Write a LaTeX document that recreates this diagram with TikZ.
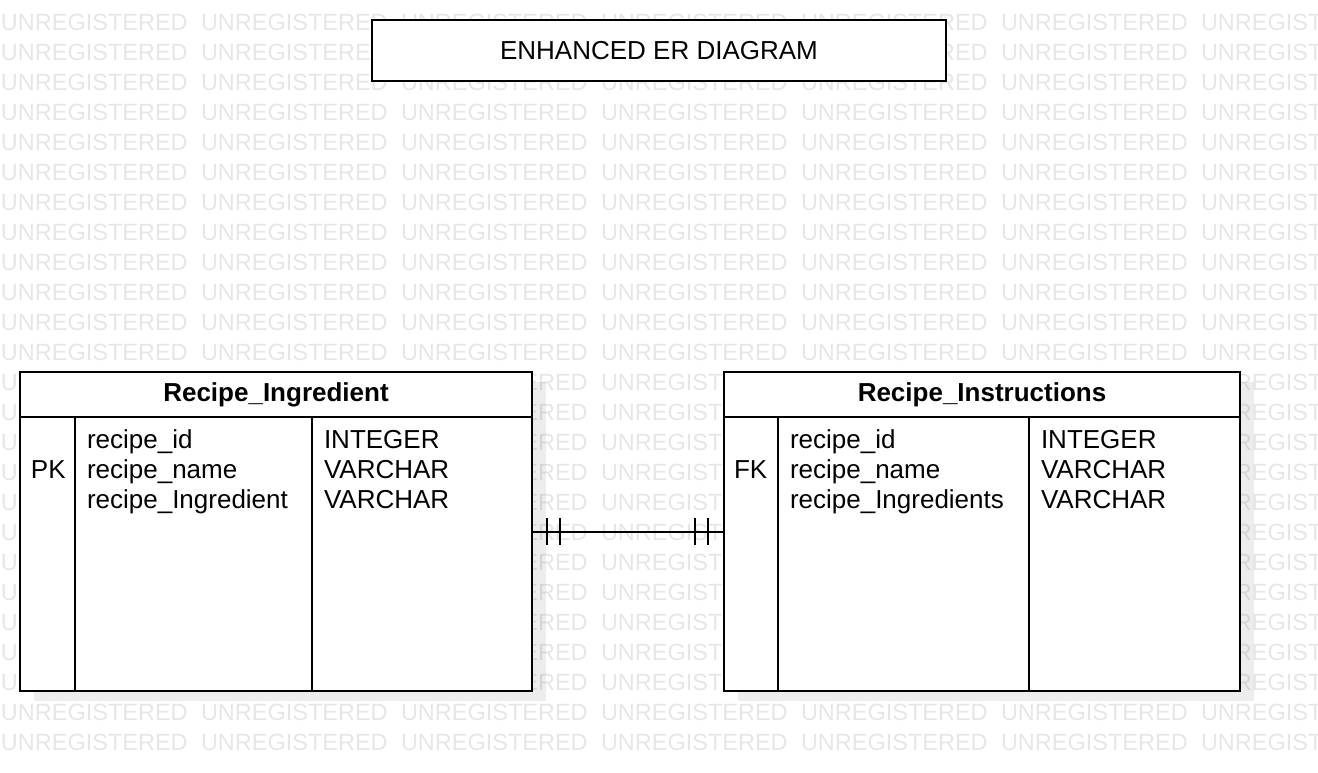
\documentclass[tikz,border=0pt]{standalone}
\usepackage{fontspec}
\setmainfont{Liberation Sans}
\usetikzlibrary{shadows}
\definecolor{wmgray}{RGB}{230,230,230}

\begin{document}
\begin{tikzpicture}[x=0.5pt,y=-0.5pt,line width=1pt,
  wmark/.style={anchor=base west,inner sep=0pt,text=wmgray,font=\fontsize{11.75}{14}\selectfont},
  tablebox/.style={draw,fill=white,inner sep=0pt,minimum height=159.5pt,
    drop shadow={shadow xshift=7pt,shadow yshift=-5pt,fill=black,opacity=0.07}},
  titlebox/.style={draw,fill=white,inner sep=0pt,minimum width=287pt,minimum height=30.5pt,
    font=\fontsize{13}{15}\selectfont},
  headtext/.style={anchor=base,inner sep=0pt,font=\bfseries\fontsize{13}{15}\selectfont},
  celltext/.style={anchor=base west,inner sep=0pt,font=\fontsize{13}{15}\selectfont}]
  \useasboundingbox (0,0) rectangle (1318,772);
  \clip (0,0) rectangle (1318,772);
  % watermark
  \foreach \r in {0,...,24}
    \foreach \c in {0,...,6}
      \node[wmark] (wm-\r-\c) at (200*\c,30+30*\r) {UNREGISTERED};

  \node[titlebox] (title) at (659,50.5) {ENHANCED ER DIAGRAM};

  % tables
  \node[tablebox,minimum width=256pt] (ing) at (276,531.5) {};
  \node[tablebox,minimum width=258pt] (ins) at (982,531.5) {};

  \draw ([yshift=-22.75pt]ing.north west) -- ([yshift=-22.75pt]ing.north east);
  \draw ([xshift=28pt,yshift=-22.75pt]ing.north west) -- ([xshift=28pt]ing.south west);
  \draw ([xshift=146.5pt,yshift=-22.75pt]ing.north west) -- ([xshift=146.5pt]ing.south west);
  \draw ([yshift=-22.75pt]ins.north west) -- ([yshift=-22.75pt]ins.north east);
  \draw ([xshift=27.5pt,yshift=-22.75pt]ins.north west) -- ([xshift=27.5pt]ins.south west);
  \draw ([xshift=153pt,yshift=-22.75pt]ins.north west) -- ([xshift=153pt]ins.south west);

  \node[headtext] (ing-head) at (276,401) {Recipe\_Ingredient};
  \node[headtext] (ins-head) at (982,401) {Recipe\_Instructions};

  \node[celltext] (ing-key) at (30,478) {PK};
  \node[celltext] (ins-key) at (733,478) {FK};
  \foreach \y/\a/\b/\t [count=\i] in {448/recipe\_id/recipe\_id/INTEGER,
      478/recipe\_name/recipe\_name/VARCHAR,
      508/recipe\_Ingredient/recipe\_Ingredients/VARCHAR} {
    \node[celltext] (ing-col-\i) at (86,\y) {\a};
    \node[celltext] (ing-type-\i) at (323,\y) {\t};
    \node[celltext] (ins-col-\i) at (789,\y) {\b};
    \node[celltext] (ins-type-\i) at (1040,\y) {\t};
  }

  % one-to-one link
  \draw (ing.east) -- (ins.west);
  \draw ([xshift=7pt]ing.east) ++(0,-13.5) -- ++(0,27);
  \draw ([xshift=13.5pt]ing.east) ++(0,-13.5) -- ++(0,27);
  \draw ([xshift=-7.5pt]ins.west) ++(0,-13.5) -- ++(0,27);
  \draw ([xshift=-14pt]ins.west) ++(0,-13.5) -- ++(0,27);
\end{tikzpicture}
\end{document}
